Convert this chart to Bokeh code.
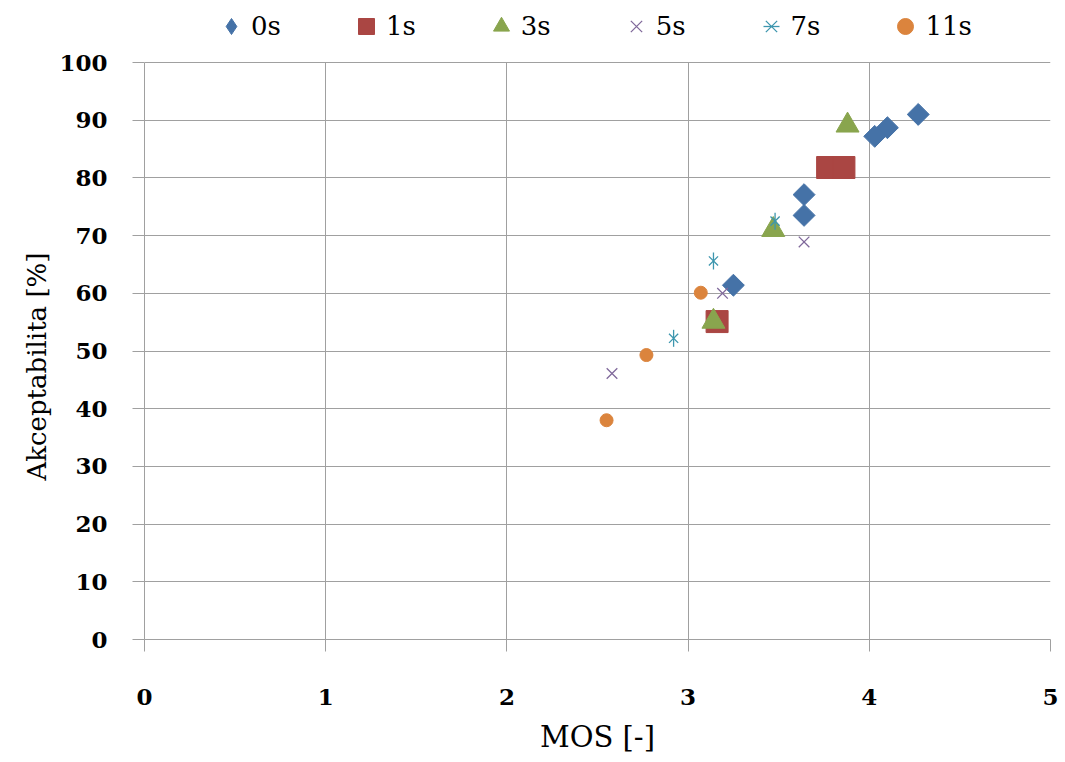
from math import pi
from bokeh.plotting import figure
from bokeh.models import (Legend, LegendItem, Range1d, FixedTicker, Grid,
                          Title, BoxAnnotation)
from bokeh.embed import file_html
from bokeh.resources import INLINE

# ---- data -------------------------------------------------------------
series_labels = ["0s", "1s", "3s", "5s", "7s", "11s"]
series_colors = ["#4572A7", "#AA4643", "#89A54E", "#80699B", "#3D96AE", "#DB843D"]

s0_x = [4.27, 4.10, 4.03, 3.64, 3.64, 3.25]
s0_y = [91.0, 88.7, 87.2, 77.1, 73.5, 61.4]

s1_x = [3.77, 3.86, 3.16]
s1_y = [81.8, 81.8, 55.1]

s3_x = [3.88, 3.47, 3.14]
s3_y = [89.1, 71.0, 55.1]

s5_x = [3.64, 3.19, 2.58]
s5_y = [68.9, 60.0, 46.1]

s7_x = [3.48, 3.14, 2.92]
s7_y = [72.5, 65.6, 52.2]

s11_x = [3.07, 2.77, 2.55]
s11_y = [60.1, 49.3, 38.0]

x_ticks = [0, 1, 2, 3, 4, 5]
y_ticks = [0, 10, 20, 30, 40, 50, 60, 70, 80, 90, 100]

x_label = "MOS [-]"
y_label = "Akceptabilita [%]"

# ---- layout (pixels) --------------------------------------------------
W, H = 1060, 762
BORDER_L, BORDER_R, BORDER_B = 144, 10, 123
FRAME_H = H - BORDER_B          # frame runs up to the top edge (legend lives there)
PLOT_H = 577                    # pixels used by the 0..100 part of the axis
Y_TOP = 100.0 * FRAME_H / PLOT_H

GRID = "#a0a0a0"

p = figure(width=W, height=H,
           x_range=Range1d(0, 5), y_range=Range1d(0, Y_TOP),
           output_backend="svg", toolbar_location=None,
           min_border_left=BORDER_L, min_border_right=BORDER_R,
           min_border_top=0, min_border_bottom=BORDER_B,
           background_fill_color="white", border_fill_color="white",
           outline_line_color=None)

c = series_colors
# small diamonds hidden beneath the rotated squares: they give the legend its key
r0_key = p.scatter(s0_x, s0_y, marker="diamond", size=9,
                   fill_color=c[0], line_color=c[0])
r0 = p.scatter(s0_x, s0_y, marker="square", angle=pi / 4, size=15.5,
               fill_color=c[0], line_color=c[0])
r1 = p.scatter(s1_x, s1_y, marker="square", size=22,
               fill_color=c[1], line_color=c[1])
r3 = p.scatter(s3_x, s3_y, marker="triangle", size=23,
               fill_color=c[2], line_color=c[2])
r5 = p.scatter(s5_x, s5_y, marker="x", size=15,
               line_color=c[3], line_width=1.3)
r7a = p.scatter(s7_x, s7_y, marker="x", size=13,
                line_color=c[4], line_width=1.3)
r7b = p.scatter(s7_x, s7_y, marker="dash", angle=pi / 2, size=17,
                line_color=c[4], line_width=1.3)
r11 = p.scatter(s11_x, s11_y, marker="circle", size=13,
                fill_color=c[5], line_color=c[5])

legend = Legend(
    items=[LegendItem(label=series_labels[0], renderers=[r0_key]),
           LegendItem(label=series_labels[1], renderers=[r1]),
           LegendItem(label=series_labels[2], renderers=[r3]),
           LegendItem(label=series_labels[3], renderers=[r5]),
           LegendItem(label=series_labels[4], renderers=[r7a, r7b]),
           LegendItem(label=series_labels[5], renderers=[r11])],
    orientation="horizontal", location=(67, FRAME_H - 46),
    glyph_width=40, glyph_height=40, label_standoff=-1, spacing=65,
    padding=0, margin=0, border_line_color=None, background_fill_alpha=0,
    label_text_font="DejaVu Serif", label_text_font_size="26px",
    label_text_color="black")
p.add_layout(legend)

p.xaxis.ticker = FixedTicker(ticks=x_ticks)
p.yaxis.ticker = FixedTicker(ticks=y_ticks)
p.yaxis.bounds = (0, 100)

if "cross_bounds" in Grid.properties():
    p.xgrid.cross_bounds = (0, 100)
else:
    p.add_layout(BoxAnnotation(bottom=100.15, fill_color="white", fill_alpha=1,
                               line_color=None, level="underlay"))

for ax in (p.xaxis[0], p.yaxis[0]):
    ax.axis_line_color = GRID
    ax.major_tick_line_color = GRID
    ax.major_tick_out = 12
    ax.major_tick_in = 0
    ax.minor_tick_line_color = None
    ax.major_label_text_font = "DejaVu Serif"
    ax.major_label_text_font_style = "bold"
    ax.major_label_text_font_size = "23px"
    ax.major_label_text_color = "black"
    ax.axis_label_text_font = "DejaVu Serif"
    ax.axis_label_text_font_style = "normal"
    ax.axis_label_text_color = "black"

p.xaxis.axis_label = x_label
p.xaxis.axis_label_text_font_size = "29px"
p.xaxis.major_label_standoff = 37
p.xaxis.axis_label_standoff = 12

p.yaxis.major_label_standoff = 25

# y-axis title, placed over the 0..100 part of the axis like the original
ytitle = Title(text=y_label, align="left", offset=159, standoff=10,
               text_font="DejaVu Serif", text_font_size="26px",
               text_font_style="normal", text_color="black")
p.add_layout(ytitle, "left")

p.grid.grid_line_color = GRID
p.grid.grid_line_width = 1

open("out.html", "w").write(file_html(p, INLINE))
